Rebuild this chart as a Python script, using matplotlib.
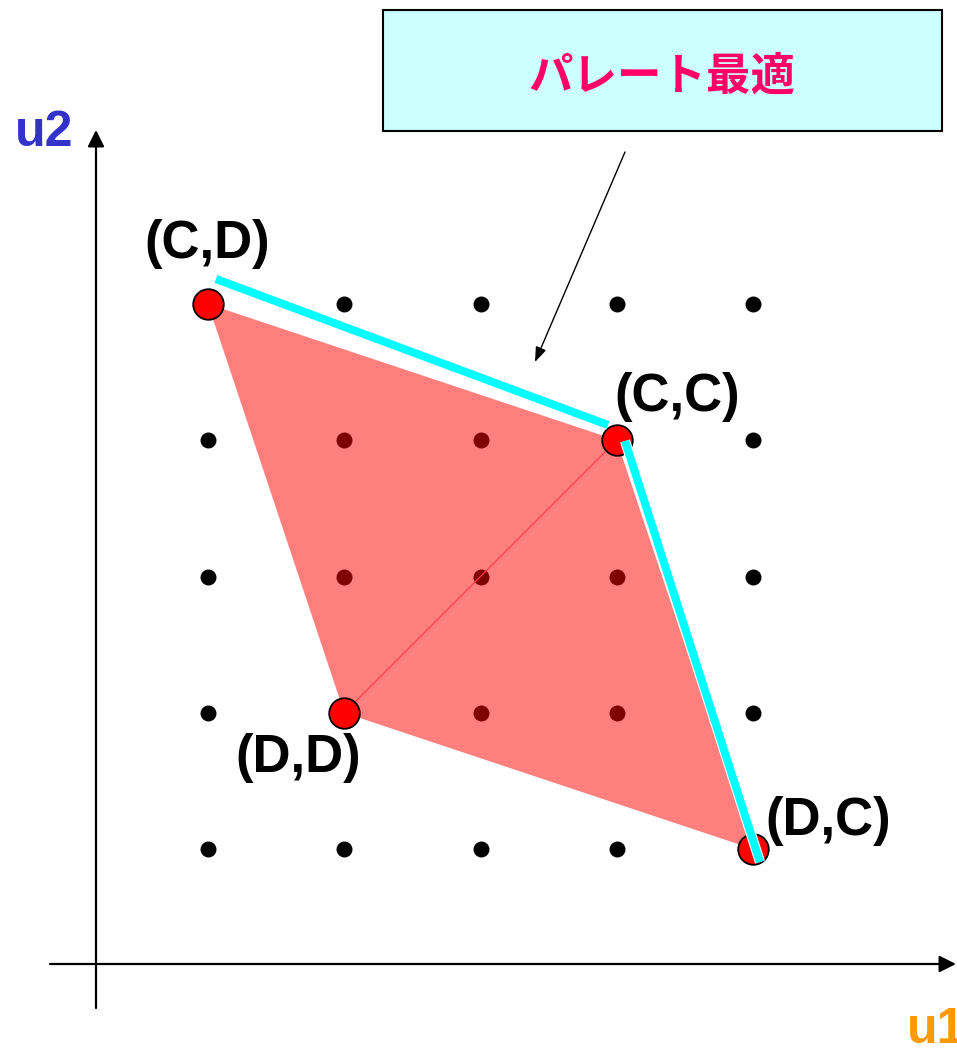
import matplotlib
matplotlib.use('Agg')
import matplotlib.pyplot as plt
from matplotlib.patches import Polygon, Rectangle

# grid of possible payoffs
grid_u = [1, 2, 3, 4, 5]

# outcomes of the game
outcomes = ['(C,C)', '(C,D)', '(D,C)', '(D,D)']
u1 = [4, 1, 5, 2]
u2 = [4, 5, 1, 2]

# order of the polygon corners
hull_order = ['(C,D)', '(C,C)', '(D,C)', '(D,D)']

box_text = 'パレート最適'

W, H = 957, 1049
fig = plt.figure(figsize=(W / 100, H / 100), dpi=100)
ax = fig.add_axes([0, 0, 1, 1])
S = 136.25
def dx(p): return 1 + (p - 208) / S
def dy(p): return 1 + (849 - p) / S
ax.set_xlim(dx(0), dx(W))
ax.set_ylim(dy(H), dy(0))
ax.axis('off')

lat = ['Liberation Sans', 'DejaVu Sans']

# axes with arrows
ax.annotate('', xy=(dx(956), dy(964)), xytext=(dx(50), dy(964)),
            arrowprops=dict(arrowstyle='-|>', lw=1.6, color='black', mutation_scale=25,
                            shrinkA=0, shrinkB=0))
ax.annotate('', xy=(dx(96), dy(130)), xytext=(dx(96), dy(1008)),
            arrowprops=dict(arrowstyle='-|>', lw=1.6, color='black', mutation_scale=25,
                            shrinkA=0, shrinkB=0))
ax.text(dx(15), dy(133), 'u2', color='#3333CC', fontsize=36, fontweight='bold',
        family=lat, ha='left', va='center')
ax.text(dx(907), dy(1030), 'u1', color='#FF9900', fontsize=36, fontweight='bold',
        family=lat, ha='left', va='center')

# grid dots
gx = [a for a in grid_u for b in grid_u]
gy = [b for a in grid_u for b in grid_u]
ax.scatter(gx, gy, s=11.5 ** 2, color='black', zorder=1, linewidths=0)

idx = {o: i for i, o in enumerate(outcomes)}
hull = [(u1[idx[o]], u2[idx[o]]) for o in hull_order]
ax.add_patch(Polygon(hull, closed=True, facecolor='red', alpha=0.5, edgecolor='none', zorder=2))
dd, cc = idx['(D,D)'], idx['(C,C)']
ax.plot([u1[dd], u1[cc]], [u2[dd], u2[cc]], color='#FF4040', lw=0.9, zorder=3)

# payoff points
ax.scatter(u1, u2, s=22 ** 2, color='red', edgecolors='black', linewidths=1.3, zorder=4)

# pareto frontier (drawn slightly outside the hull)
seg1 = [(dx(216), dy(279)), (dx(608), dy(425))]
seg2 = [(dx(625), dy(441)), (dx(760), dy(862))]
for seg in (seg1, seg2):
    xs, ys = zip(*seg)
    ax.plot(xs, ys, color='white', lw=7.4, solid_capstyle='butt', zorder=5)
    ax.plot(xs, ys, color='#00FFFF', lw=5.8, solid_capstyle='butt', zorder=6)

label_pos = {'(C,D)': (207, 244), '(C,C)': (677, 397), '(D,D)': (298, 758), '(D,C)': (828, 821)}
for o in outcomes:
    px, py = label_pos[o]
    ax.text(dx(px), dy(py), o, fontsize=38, fontweight='bold', family=lat,
            ha='center', va='center', zorder=7)

# callout box
ax.add_patch(Rectangle((dx(383), dy(131)), (942 - 383) / S, (131 - 10) / S,
                       facecolor='#CCFFFF', edgecolor='black', lw=1.5, zorder=7))
ax.text(dx(662), dy(77), box_text, color='#FF0066', fontsize=32, fontweight='bold',
        family=['Noto Sans CJK JP', 'DejaVu Sans'], ha='center', va='center', zorder=8)
ax.annotate('', xy=(dx(535), dy(362)), xytext=(dx(625), dy(152)),
            arrowprops=dict(arrowstyle='-|>,head_length=0.6,head_width=0.22', lw=1.0,
                            color='black', mutation_scale=15, shrinkA=0, shrinkB=0))

fig.savefig('out.png', dpi=100)
